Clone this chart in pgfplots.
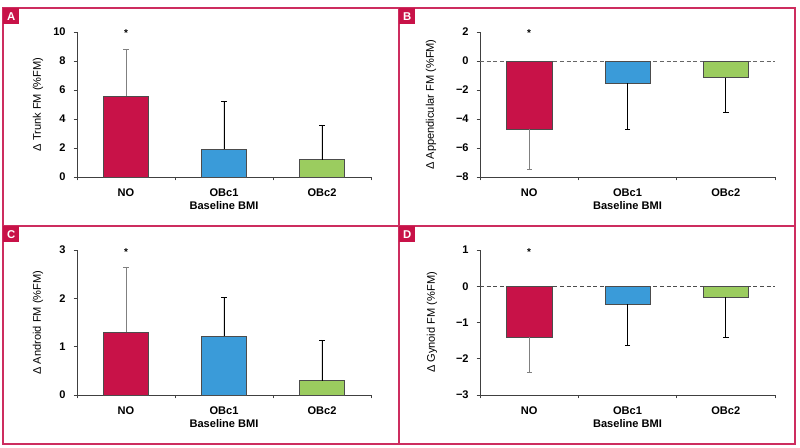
\documentclass[border=0pt]{standalone}
\usepackage{pgfplots}
\pgfplotsset{compat=1.18}
\usepackage{fontspec}
\setmainfont{Liberation Sans}
\definecolor{crim}{RGB}{200,18,72}
\definecolor{frm}{RGB}{205,45,95}
\definecolor{blu}{RGB}{58,155,217}
\definecolor{grn}{RGB}{155,204,95}

\pgfplotsset{
  panel/.style={
    scale only axis, width=220.5pt, height=108.75pt,
    anchor=south west,
    xmin=0.5, xmax=3.5,
    xtick={0.5,1.5,2.5,3.5},
    xticklabels={NO,OBc1,OBc2},
    x tick label as interval,
    axis x line*=bottom, axis y line*=left,
    axis line style={-, black!75, line width=0.6pt},
    tick align=outside, major tick length=2.5pt,
    tick style={black!75, line width=0.6pt},
    ticklabel style={font=\bfseries\fontsize{8.3}{9}\selectfont},
    xticklabel style={yshift=-2.5pt},
    yticklabel style={xshift=-2.5pt},
    label style={font=\fontsize{8.3}{9}\selectfont},
    xlabel={\bfseries Baseline BMI},
    xlabel style={at={(axis description cs:0.5,-0.2)},anchor=center},
    ybar, bar width=0.46, clip=false,
    error bars/y explicit,
    error bars/error bar style={black, line width=0.6pt},
  },
  bNO/.style={fill=crim, draw=black!70, line width=0.4pt, bar shift=0pt,
    error bars/error bar style={gray, line width=0.6pt}},
  bO1/.style={fill=blu, draw=black!70, line width=0.4pt, bar shift=0pt},
  bO2/.style={fill=grn, draw=black!70, line width=0.4pt, bar shift=0pt},
}

\begin{document}
\begin{tikzpicture}
\useasboundingbox (0,0) rectangle (600pt,335.25pt);

% A
\begin{axis}[panel, at={(57.75pt,202.5pt)},
  ymin=0, ymax=10, ytick={0,2,4,6,8,10},
  yticklabels={0,2,4,6,8,10},
  error bars/y dir=plus,
  ylabel={Δ Trunk FM (\%FM)},
  ylabel style={at={(axis description cs:-0.133,0.5)},anchor=center}]
\addplot[bNO] coordinates {(1,5.6) +- (0,3.2)};
\addplot[bO1] coordinates {(2,1.9) +- (0,3.35)};
\addplot[bO2] coordinates {(3,1.2) +- (0,2.4)};
\node[font=\bfseries\fontsize{7.5}{8}\selectfont] at (axis cs:1,9.9) {*};
\end{axis}

% B
\begin{axis}[panel, at={(360pt,202.5pt)}, width=221.25pt,
  ymin=-8, ymax=2, ytick={-8,-6,-4,-2,0,2},
  yticklabels={−8,−6,−4,−2,0,2},
  error bars/y dir=minus,
  ylabel={Δ Appendicular FM (\%FM)},
  ylabel style={at={(axis description cs:-0.166,0.5)},anchor=center}]
\draw[densely dashed, black!60, line width=0.6pt] (axis cs:0.5,0) -- (axis cs:3.5,0);
\addplot[bNO] coordinates {(1,-4.7) +- (0,2.8)};
\addplot[bO1] coordinates {(2,-1.55) +- (0,3.15)};
\addplot[bO2] coordinates {(3,-1.15) +- (0,2.4)};
\node[font=\bfseries\fontsize{7.5}{8}\selectfont] at (axis cs:1,1.9) {*};
\end{axis}

% C
\begin{axis}[panel, at={(57.75pt,39pt)},
  ymin=0, ymax=3, ytick={0,1,2,3},
  yticklabels={0,1,2,3},
  error bars/y dir=plus,
  ylabel={Δ Android FM (\%FM)},
  ylabel style={at={(axis description cs:-0.133,0.5)},anchor=center}]
\addplot[bNO] coordinates {(1,1.3) +- (0,1.35)};
\addplot[bO1] coordinates {(2,1.22) +- (0,0.8)};
\addplot[bO2] coordinates {(3,0.3) +- (0,0.84)};
\node[font=\bfseries\fontsize{7.5}{8}\selectfont] at (axis cs:1,2.95) {*};
\end{axis}

% D
\begin{axis}[panel, at={(360pt,39pt)}, width=221.25pt,
  ymin=-3, ymax=1, ytick={-3,-2,-1,0,1},
  yticklabels={−3,−2,−1,0,1},
  error bars/y dir=minus,
  ylabel={Δ Gynoid FM (\%FM)},
  ylabel style={at={(axis description cs:-0.163,0.5)},anchor=center}]
\draw[densely dashed, black!70, line width=0.6pt] (axis cs:0.5,0) -- (axis cs:3.5,0);
\addplot[bNO] coordinates {(1,-1.4) +- (0,0.97)};
\addplot[bO1] coordinates {(2,-0.5) +- (0,1.12)};
\addplot[bO2] coordinates {(3,-0.3) +- (0,1.1)};
\node[font=\bfseries\fontsize{7.5}{8}\selectfont] at (axis cs:1,0.95) {*};
\end{axis}

% frame
\draw[frm, line width=1.5pt] (2.25pt,2.25pt) rectangle (596.25pt,329.25pt);
\draw[frm, line width=1.5pt] (299.25pt,2.25pt) -- (299.25pt,329.25pt);
\draw[frm, line width=1.5pt] (2.25pt,165.75pt) -- (596.25pt,165.75pt);
\foreach \lx/\ly/\lt in {2.25/329.25/A, 299.25/329.25/B, 2.25/165.75/C, 299.25/165.75/D}
  \node[fill=crim, text=white, font=\bfseries\fontsize{8.5}{9}\selectfont,
    anchor=north west, minimum width=12pt, minimum height=12pt, inner sep=0pt]
    at (\lx pt,\ly pt) {\lt};
\end{tikzpicture}
\end{document}
